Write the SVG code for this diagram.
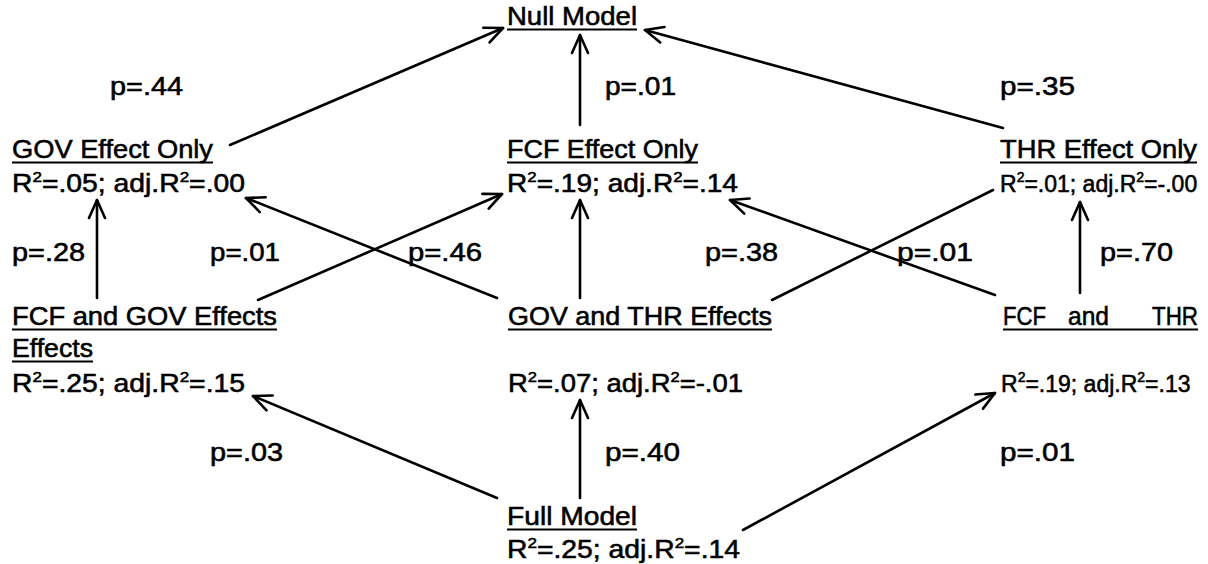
<svg xmlns="http://www.w3.org/2000/svg" width="1208" height="564" viewBox="0 0 1208 564">
  <defs>
    <style>
      text { font-family: "Liberation Sans", Arial, sans-serif; font-size: 25px; fill: #000; stroke: #000; stroke-width: 0.55; }
      text.tight { font-size: 23px; }
      .sup { font-size: 15px; }
      .tight .sup { font-size: 14px; }
      .ul { stroke: #000; stroke-width: 2; }
      .edge { stroke: #000; stroke-width: 2.6; fill: none; stroke-linecap: round; }
    </style>
    <marker id="ah" viewBox="0 0 22 22" refX="20" refY="11" markerWidth="22" markerHeight="22" markerUnits="userSpaceOnUse" orient="auto">
      <path d="M2,3 L20,11 L2,19" fill="none" stroke="#000" stroke-width="2.6" stroke-linecap="round" stroke-linejoin="round"/>
    </marker>
  </defs>
  <rect width="1208" height="564" fill="#fff"/>

  <!-- connectors -->
  <g id="connectors">
    <line class="edge" x1="230" y1="145" x2="503" y2="28" marker-end="url(#ah)"/>
    <line class="edge" x1="580" y1="125" x2="580" y2="35" marker-end="url(#ah)"/>
    <line class="edge" x1="1003" y1="128" x2="645" y2="30" marker-end="url(#ah)"/>
    <line class="edge" x1="97" y1="298" x2="97" y2="200" marker-end="url(#ah)"/>
    <line class="edge" x1="258" y1="300" x2="502" y2="194" marker-end="url(#ah)"/>
    <line class="edge" x1="497" y1="298" x2="246" y2="198" marker-end="url(#ah)"/>
    <line class="edge" x1="580" y1="298" x2="580" y2="200" marker-end="url(#ah)"/>
    <line class="edge" x1="772" y1="300" x2="993" y2="190"/>
    <line class="edge" x1="995" y1="295" x2="730" y2="200" marker-end="url(#ah)"/>
    <line class="edge" x1="1080" y1="293" x2="1080" y2="202" marker-end="url(#ah)"/>
    <line class="edge" x1="497" y1="498" x2="253" y2="396" marker-end="url(#ah)"/>
    <line class="edge" x1="580" y1="498" x2="580" y2="400" marker-end="url(#ah)"/>
    <line class="edge" x1="743" y1="530" x2="995" y2="393" marker-end="url(#ah)"/>
  </g>

  <!-- edge p-values -->
  <g id="pvalues">
    <text x="110" y="95" textLength="73" lengthAdjust="spacingAndGlyphs">p=.44</text>
    <text x="605" y="95" textLength="71" lengthAdjust="spacingAndGlyphs">p=.01</text>
    <text x="1000" y="95" textLength="75" lengthAdjust="spacingAndGlyphs">p=.35</text>
    <text x="12" y="261" textLength="73" lengthAdjust="spacingAndGlyphs">p=.28</text>
    <text x="210" y="261" textLength="70" lengthAdjust="spacingAndGlyphs">p=.01</text>
    <text x="408" y="261" textLength="74" lengthAdjust="spacingAndGlyphs">p=.46</text>
    <text x="705" y="261" textLength="73" lengthAdjust="spacingAndGlyphs">p=.38</text>
    <text x="897" y="261" textLength="76" lengthAdjust="spacingAndGlyphs">p=.01</text>
    <text x="1100" y="261" textLength="73" lengthAdjust="spacingAndGlyphs">p=.70</text>
    <text x="210" y="461" textLength="73" lengthAdjust="spacingAndGlyphs">p=.03</text>
    <text x="605" y="461" textLength="75" lengthAdjust="spacingAndGlyphs">p=.40</text>
    <text x="1000" y="461" textLength="75" lengthAdjust="spacingAndGlyphs">p=.01</text>
  </g>

  <g id="null-model">
    <text x="507" y="25" textLength="130" lengthAdjust="spacingAndGlyphs">Null Model</text>
    <line class="ul" x1="507" y1="29.5" x2="637" y2="29.5"/>
  </g>

  <g id="gov-only">
    <text x="12" y="158" textLength="201" lengthAdjust="spacingAndGlyphs">GOV Effect Only</text>
    <line class="ul" x1="12" y1="162.5" x2="213" y2="162.5"/>
    <text x="12" y="192" textLength="233" lengthAdjust="spacingAndGlyphs">R<tspan class="sup" dy="-10">2</tspan><tspan dy="10">=.05; adj.R</tspan><tspan class="sup" dy="-10">2</tspan><tspan dy="10">=.00</tspan></text>
  </g>

  <g id="fcf-only">
    <text x="507" y="158" textLength="191" lengthAdjust="spacingAndGlyphs">FCF Effect Only</text>
    <line class="ul" x1="507" y1="162.5" x2="698" y2="162.5"/>
    <text x="507" y="192" textLength="231" lengthAdjust="spacingAndGlyphs">R<tspan class="sup" dy="-10">2</tspan><tspan dy="10">=.19; adj.R</tspan><tspan class="sup" dy="-10">2</tspan><tspan dy="10">=.14</tspan></text>
  </g>

  <g id="thr-only">
    <text x="1000" y="158" textLength="197" lengthAdjust="spacingAndGlyphs">THR Effect Only</text>
    <line class="ul" x1="1000" y1="162.5" x2="1197" y2="162.5"/>
    <text class="tight" x="1000" y="192">R<tspan class="sup" dy="-10">2</tspan><tspan dy="10">=.01; adj.R</tspan><tspan class="sup" dy="-10">2</tspan><tspan dy="10">=-.00</tspan></text>
  </g>

  <g id="fcf-gov">
    <text x="12" y="325" textLength="265" lengthAdjust="spacingAndGlyphs">FCF and GOV Effects</text>
    <line class="ul" x1="12" y1="329.5" x2="277" y2="329.5"/>
    <text x="12" y="357" textLength="81" lengthAdjust="spacingAndGlyphs">Effects</text>
    <line class="ul" x1="12" y1="361.5" x2="93" y2="361.5"/>
    <text x="12" y="392" textLength="233" lengthAdjust="spacingAndGlyphs">R<tspan class="sup" dy="-10">2</tspan><tspan dy="10">=.25; adj.R</tspan><tspan class="sup" dy="-10">2</tspan><tspan dy="10">=.15</tspan></text>
  </g>

  <g id="gov-thr">
    <text x="508" y="325" textLength="264" lengthAdjust="spacingAndGlyphs">GOV and THR Effects</text>
    <line class="ul" x1="508" y1="329.5" x2="772" y2="329.5"/>
    <text x="508" y="392" textLength="235" lengthAdjust="spacingAndGlyphs">R<tspan class="sup" dy="-10">2</tspan><tspan dy="10">=.07; adj.R</tspan><tspan class="sup" dy="-10">2</tspan><tspan dy="10">=-.01</tspan></text>
  </g>

  <g id="fcf-thr">
    <text x="1003" y="325" textLength="43" lengthAdjust="spacingAndGlyphs">FCF</text>
    <text x="1068" y="325" textLength="41" lengthAdjust="spacingAndGlyphs">and</text>
    <text x="1152" y="325" textLength="46" lengthAdjust="spacingAndGlyphs">THR</text>
    <line class="ul" x1="1003" y1="329.5" x2="1198" y2="329.5"/>
    <text class="tight" x="1001" y="392">R<tspan class="sup" dy="-10">2</tspan><tspan dy="10">=.19; adj.R</tspan><tspan class="sup" dy="-10">2</tspan><tspan dy="10">=.13</tspan></text>
  </g>

  <g id="full-model">
    <text x="507" y="525" textLength="130" lengthAdjust="spacingAndGlyphs">Full Model</text>
    <line class="ul" x1="507" y1="529.5" x2="637" y2="529.5"/>
    <text x="507" y="558" textLength="233" lengthAdjust="spacingAndGlyphs">R<tspan class="sup" dy="-10">2</tspan><tspan dy="10">=.25; adj.R</tspan><tspan class="sup" dy="-10">2</tspan><tspan dy="10">=.14</tspan></text>
  </g>
</svg>
